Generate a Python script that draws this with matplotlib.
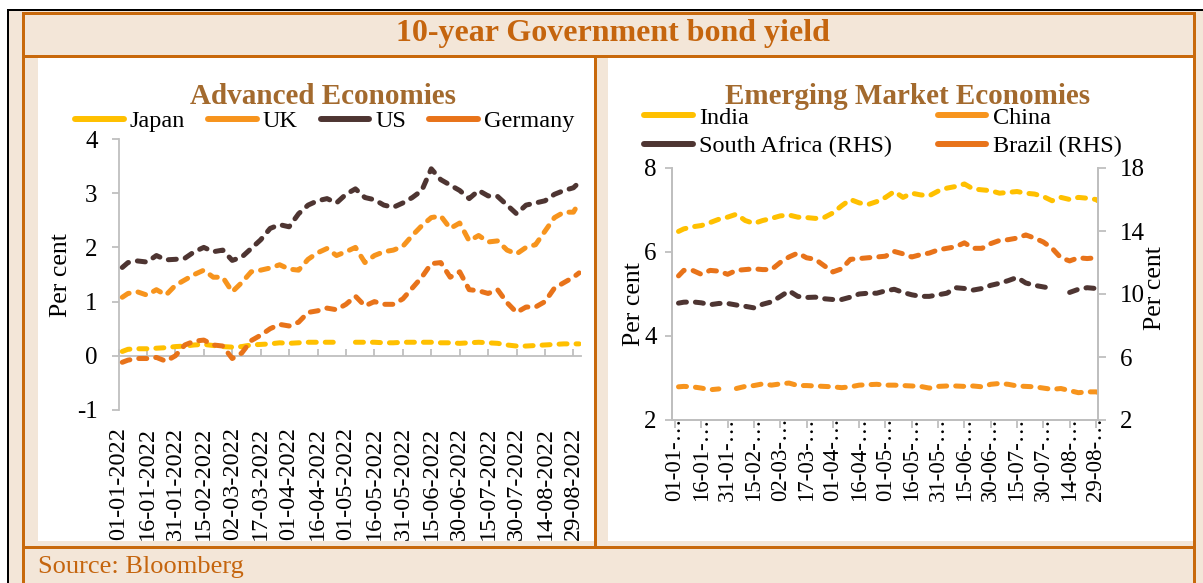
import numpy as np
import matplotlib
matplotlib.use("Agg")
import matplotlib.pyplot as plt
from matplotlib.patches import Rectangle
from matplotlib.lines import Line2D

# ---------------- data ----------------
# day offsets from 01-01-2022 (x positions of the samples)
DAYS_ADV = [2] + list(range(5, 241, 5)) + [243]
DAYS_EME = [2] + list(range(5, 241, 5)) + [241]

japan = [0.08, 0.12, 0.13, 0.13, 0.14, 0.15, 0.17, 0.18, 0.20, 0.21,
         0.19, 0.17, 0.16, 0.17, 0.20, 0.21, 0.22, 0.24, 0.23, 0.24,
         0.25, 0.25, 0.25, 0.25, np.nan, 0.25, 0.25, 0.25, 0.24, 0.24,
         0.25, 0.25, 0.25, 0.25, 0.24, 0.24, 0.23, 0.24, 0.25, 0.24,
         0.23, 0.20, 0.18, 0.18, 0.19, 0.20, 0.21, 0.22, 0.22, 0.22]
uk = [1.08, 1.15, 1.18, 1.12, 1.22, 1.12, 1.30, 1.40, 1.50, 1.58,
      1.45, 1.45, 1.18, 1.35, 1.55, 1.58, 1.62, 1.68, 1.60, 1.58,
      1.78, 1.90, 1.98, 1.85, 1.92, 2.00, 1.72, 1.85, 1.92, 1.95,
      2.02, 2.22, 2.40, 2.55, 2.58, 2.35, 2.45, 2.12, 2.22, 2.10,
      2.12, 1.95, 1.88, 2.00, 2.05, 2.30, 2.55, 2.65, 2.65, 2.83]
us = [1.63, 1.72, 1.75, 1.73, 1.85, 1.77, 1.78, 1.80, 1.92, 2.00,
      1.92, 1.95, 1.76, 1.82, 1.98, 2.14, 2.35, 2.42, 2.38, 2.62,
      2.78, 2.86, 2.90, 2.82, 2.98, 3.08, 2.92, 2.88, 2.78, 2.74,
      2.82, 2.92, 3.05, 3.45, 3.25, 3.15, 3.05, 2.90, 3.05, 2.95,
      2.94, 2.78, 2.62, 2.78, 2.82, 2.86, 2.98, 3.05, 3.10, 3.20]
germany = [-0.12, -0.08, -0.05, -0.05, -0.03, -0.10, 0.00, 0.20, 0.27, 0.29,
           0.20, 0.18, -0.05, 0.05, 0.28, 0.38, 0.50, 0.58, 0.55, 0.62,
           0.80, 0.83, 0.88, 0.85, 0.95, 1.10, 0.92, 1.00, 0.95, 0.95,
           1.05, 1.25, 1.45, 1.70, 1.72, 1.45, 1.55, 1.22, 1.20, 1.15,
           1.22, 0.98, 0.80, 0.90, 0.90, 1.00, 1.25, 1.35, 1.45, 1.53]

india = [6.49, 6.55, 6.60, 6.63, 6.70, 6.78, 6.83, 6.90, 6.75, 6.68,
         6.75, 6.80, 6.86, 6.88, 6.83, 6.82, 6.80, 6.82, 6.93, 7.10,
         7.25, 7.17, 7.13, 7.20, 7.30, 7.44, 7.30, 7.40, 7.36, 7.34,
         7.45, 7.52, 7.56, 7.62, 7.50, 7.48, 7.46, 7.40, 7.42, 7.44,
         7.40, 7.38, 7.32, 7.22, 7.30, 7.25, 7.30, 7.28, 7.25, 7.22]
china = [2.79, 2.80, 2.79, 2.76, 2.72, 2.74, np.nan, 2.75, 2.80, 2.82,
         2.86, 2.83, 2.86, 2.88, 2.82, 2.82, 2.81, 2.80, 2.79, 2.77,
         2.79, 2.83, 2.84, 2.85, 2.83, 2.83, 2.82, 2.81, 2.80, 2.76,
         2.80, 2.81, 2.81, 2.80, 2.81, 2.79, 2.85, 2.87, 2.85, 2.81,
         2.80, 2.79, 2.76, 2.73, 2.75, 2.70, 2.65, 2.67, 2.67, 2.66]
south_africa = [9.42, 9.48, 9.50, 9.44, 9.32, 9.40, 9.40, 9.30, 9.22, 9.12,
                9.35, 9.50, 9.84, 10.20, 9.85, 9.78, 9.80, 9.70, 9.65, 9.65,
                9.80, 10.00, 10.05, 10.05, 10.20, 10.30, 10.10, 9.95, 9.85, 9.85,
                9.95, 10.05, 10.40, 10.35, 10.25, 10.35, 10.55, 10.68, 10.85, 11.05,
                10.70, 10.55, 10.45, 10.35, np.nan, 10.10, 10.30, 10.40, 10.35, 10.45]
brazil = [11.15, 11.50, 11.50, 11.25, 11.50, 11.45, 11.25, 11.50, 11.55, 11.60,
          11.55, 11.55, 12.00, 12.35, 12.60, 12.30, 12.20, 11.80, 11.40, 11.60,
          12.20, 12.25, 12.30, 12.35, 12.40, 12.70, 12.55, 12.35, 12.50, 12.60,
          12.80, 12.90, 13.00, 13.25, 12.90, 12.90, 13.20, 13.40, 13.45, 13.55,
          13.75, 13.55, 13.30, 12.90, 12.30, 12.10, 12.30, 12.25, 12.30, 12.20]

TICK_DAYS = list(range(0, 241, 15))
TICK_LABELS_ADV = ['01-01-2022', '16-01-2022', '31-01-2022', '15-02-2022', '02-03-2022',
                   '17-03-2022', '01-04-2022', '16-04-2022', '01-05-2022', '16-05-2022',
                   '31-05-2022', '15-06-2022', '30-06-2022', '15-07-2022', '30-07-2022',
                   '14-08-2022', '29-08-2022']
TICK_LABELS_EME = [s[:6] + '\u2026' for s in TICK_LABELS_ADV]

# ---------------- style ----------------
W, H = 1203, 583
FONT = 'Liberation Serif'
plt.rcParams['font.family'] = [FONT, 'DejaVu Serif']
C_GOLD = '#FFC000'
C_ORANGE = '#F7941D'
C_BROWN = '#4E3532'
C_DORANGE = '#E8731A'
C_FRAME = '#C8690C'
C_BEIGE = '#F3E6D8'
C_TITLE = '#C5650E'
C_SUB = '#A36A2E'
C_AXIS = '#BFBFBF'
FS_TICK = 18
FS_LEG = 17.5

fig = plt.figure(figsize=(W / 100, H / 100), dpi=100)
fig.patch.set_facecolor('white')


def rect(x0, y0, x1, y1, color, z=-10):
    """pixel box with top-left origin -> figure rectangle"""
    fig.add_artist(Rectangle((x0 / W, 1 - y1 / H), (x1 - x0) / W, (y1 - y0) / H,
                             transform=fig.transFigure, facecolor=color,
                             edgecolor='none', zorder=z))


def box(x0, y0, x1, y1):
    return [x0 / W, 1 - y1 / H, (x1 - x0) / W, (y1 - y0) / H]


# frame / background
rect(7, 9, 1203, 583, 'black', -12)
rect(9, 11, 1203, 583, C_BEIGE, -11)
rect(38, 58, 594, 541, 'white')
rect(608, 58, 1193, 541, 'white')
rect(22, 12, 1196, 15, C_FRAME)        # top
rect(22, 12, 25, 583, C_FRAME)         # left
rect(1193, 12, 1196, 583, C_FRAME)     # right
rect(22, 55, 1196, 58, C_FRAME)        # under title
rect(594, 55, 597, 549, C_FRAME)       # divider
rect(22, 546, 1196, 549, C_FRAME)      # bottom

fig.text(613 / W, 1 - 34 / H, '10-year Government bond yield', ha='center', va='center',
         fontsize=23, fontweight='bold', color=C_TITLE)
fig.text(38 / W, 1 - 567 / H, 'Source: Bloomberg', ha='left', va='center',
         fontsize=19, color=C_TITLE)
fig.text(323 / W, 1 - 96 / H, 'Advanced Economies', ha='center', va='center',
         fontsize=21, fontweight='bold', color=C_SUB)
fig.text(908 / W, 1 - 96 / H, 'Emerging Market Economies', ha='center', va='center',
         fontsize=21, fontweight='bold', color=C_SUB)

LW = 3.6
DASH = (0, (1.6, 1.8))


def series(ax, x, y, color):
    ax.plot(x, y, color=color, lw=LW, linestyle=DASH, dash_capstyle='round',
            solid_capstyle='round', zorder=3)


# ---------------- left chart ----------------
ax = fig.add_axes(box(118.5, 139, 581, 410))
ax.set_facecolor('none')
series(ax, DAYS_ADV, japan, C_GOLD)
series(ax, DAYS_ADV, uk, C_ORANGE)
series(ax, DAYS_ADV, us, C_BROWN)
series(ax, DAYS_ADV, germany, C_DORANGE)
ax.set_xlim(0, 244)
ax.set_ylim(-1, 4)
ax.set_yticks([-1, 0, 1, 2, 3, 4])
ax.set_yticklabels(['-1', '0', '1', '2', '3', '4'])
for s in ['right', 'bottom']:
    ax.spines[s].set_visible(False)
ax.spines['left'].set_color(C_AXIS)
ax.spines['left'].set_linewidth(1.3)
ax.spines['top'].set_position(('data', 0))
ax.spines['top'].set_color(C_AXIS)
ax.spines['top'].set_linewidth(1.3)
ax.set_xticks(TICK_DAYS)
ax.set_xticklabels(TICK_LABELS_ADV, rotation=90, va='top', ha='center')
ax.tick_params(axis='x', top=True, bottom=False, labeltop=False, labelbottom=True,
               direction='out', length=5, color=C_AXIS, width=1.3, pad=7,
               labelsize=17.5)
ax.tick_params(axis='y', direction='out', length=5, color=C_AXIS, width=1.3,
               pad=10, labelsize=FS_TICK)
ax.set_ylabel('Per cent', fontsize=FS_TICK + 0.5)
ax.yaxis.set_label_coords(72 / W, 1 - 275 / H, transform=fig.transFigure)

h_adv = [Line2D([], [], color=c, lw=4.3, solid_capstyle='round')
         for c in [C_GOLD, C_ORANGE, C_BROWN, C_DORANGE]]
fig.legend(h_adv, ['Japan', 'UK', 'US', 'Germany'], loc='center left',
           bbox_to_anchor=(75 / W, 1 - 121 / H), ncol=4, frameon=False,
           fontsize=FS_LEG, handlelength=2.0, handletextpad=0.25, columnspacing=0.95,
           borderpad=0, borderaxespad=0)

# ---------------- right chart ----------------
DAY0 = (672 - 675) / 1.754
DAY1 = (1098 - 675) / 1.754
bx = fig.add_axes(box(672, 168, 1098, 420))
bx.set_facecolor('none')
series(bx, DAYS_EME, india, C_GOLD)
series(bx, DAYS_EME, china, C_ORANGE)
bx.set_xlim(DAY0, DAY1)
bx.set_ylim(2, 8)
bx.set_yticks([2, 4, 6, 8])
bx.set_yticklabels(['2', '4', '6', '8'])
bx2 = bx.twinx()
series(bx2, DAYS_EME, south_africa, C_BROWN)
series(bx2, DAYS_EME, brazil, C_DORANGE)
bx2.set_ylim(2, 18)
bx2.set_yticks([2, 6, 10, 14, 18])
bx2.set_yticklabels(['2', '6', '10', '14', '18'])
bx2.set_xlim(DAY0, DAY1)
for a in (bx, bx2):
    a.spines['top'].set_visible(False)
    for s in ['left', 'right', 'bottom']:
        a.spines[s].set_color(C_AXIS)
        a.spines[s].set_linewidth(1.3)
bx.set_xticks(TICK_DAYS)
bx.set_xticklabels(TICK_LABELS_EME, rotation=90, va='top', ha='center')
bx.tick_params(axis='x', direction='out', length=6, color=C_AXIS, width=1.3,
               pad=-8, labelsize=16.5)
bx.tick_params(axis='y', direction='out', length=5, color=C_AXIS, width=1.3,
               pad=6, labelsize=FS_TICK)
bx2.tick_params(axis='y', direction='out', length=6, color=C_AXIS, width=1.3,
                pad=10, labelsize=FS_TICK)
bx.set_ylabel('Per cent', fontsize=FS_TICK + 0.5)
bx.yaxis.set_label_coords(645 / W, 1 - 304 / H, transform=fig.transFigure)
bx2.set_ylabel('Per cent', fontsize=FS_TICK + 0.5)
bx2.yaxis.set_label_coords(1144 / W, 1 - 288 / H, transform=fig.transFigure)

h_eme = [Line2D([], [], color=c, lw=4.3, solid_capstyle='round')
         for c in [C_GOLD, C_BROWN, C_ORANGE, C_DORANGE]]
fig.legend(h_eme, ['India', 'South Africa (RHS)', 'China', 'Brazil (RHS)'],
           loc='center left', bbox_to_anchor=(644 / W, 1 - 132 / H), ncol=2,
           frameon=False, fontsize=FS_LEG, handlelength=2.0, handletextpad=0.25,
           columnspacing=1.9, labelspacing=0.25, borderpad=0, borderaxespad=0)

fig.savefig('out.png', dpi=100)
